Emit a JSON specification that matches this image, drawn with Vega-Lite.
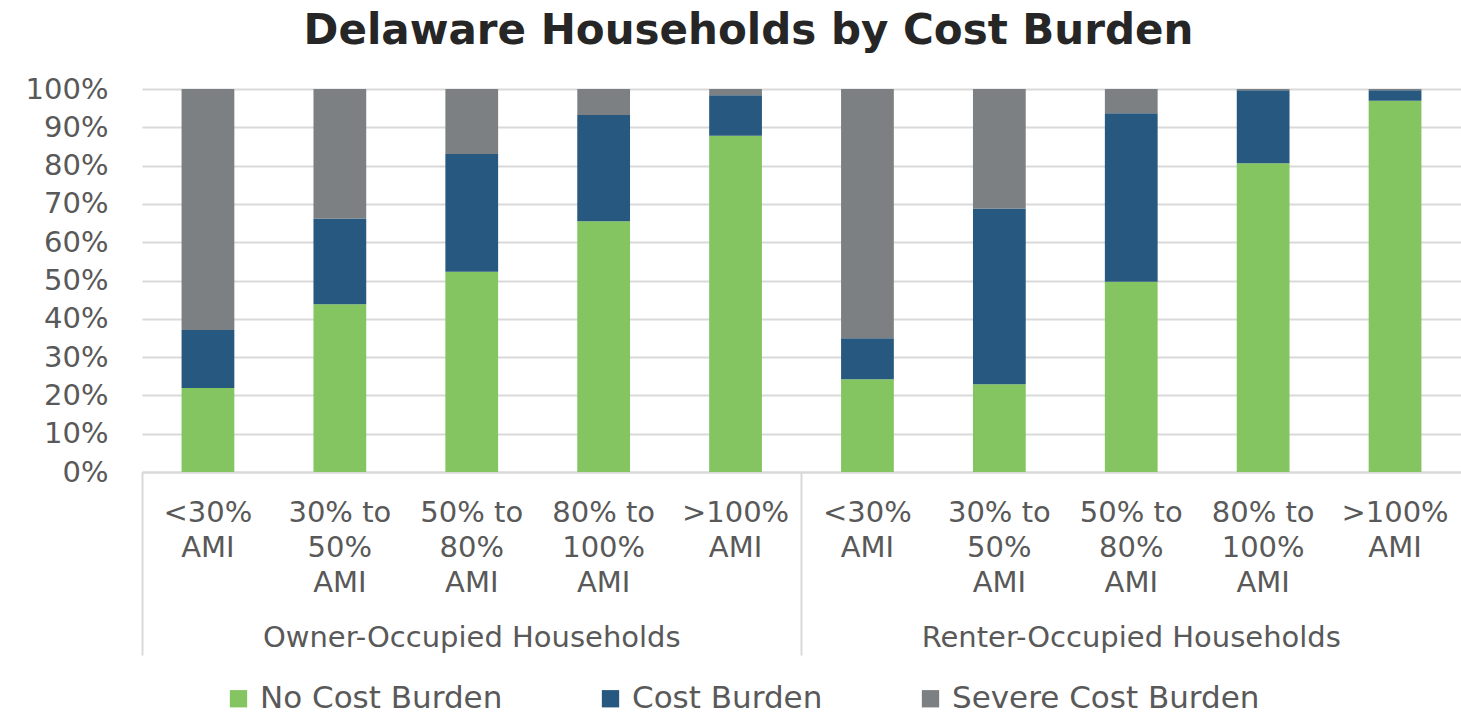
{
  "$schema": "https://vega.github.io/schema/vega-lite/v6.json",
  "autosize": {"type": "none"},
  "width": 1319,
  "height": 383,
  "padding": {"left": 142, "top": 89, "right": 0, "bottom": 244},
  "background": "white",
  "title": {
    "text": "Delaware Households by Cost Burden",
    "font": "DejaVu Sans",
    "fontSize": 42,
    "fontWeight": "bold",
    "color": "#262626",
    "anchor": "middle",
    "frame": "group",
    "dx": -53,
    "dy": 53,
    "baseline": "alphabetic",
    "offset": 42
  },
  "config": {
    "view": {"stroke": null},
    "axis": {"labelFont": "DejaVu Sans", "labelColor": "#595959"},
    "legend": {"labelFont": "DejaVu Sans", "labelColor": "#595959"}
  },
  "data": {
    "values": [
      {"cat": "O|<30%|AMI", "burden": "No Cost Burden", "ord": 1, "pct": 21.9},
      {"cat": "O|<30%|AMI", "burden": "Cost Burden", "ord": 2, "pct": 15.2},
      {"cat": "O|<30%|AMI", "burden": "Severe Cost Burden", "ord": 3, "pct": 62.9},
      {"cat": "O|30% to|50%|AMI", "burden": "No Cost Burden", "ord": 1, "pct": 43.8},
      {"cat": "O|30% to|50%|AMI", "burden": "Cost Burden", "ord": 2, "pct": 22.4},
      {"cat": "O|30% to|50%|AMI", "burden": "Severe Cost Burden", "ord": 3, "pct": 33.8},
      {"cat": "O|50% to|80%|AMI", "burden": "No Cost Burden", "ord": 1, "pct": 52.3},
      {"cat": "O|50% to|80%|AMI", "burden": "Cost Burden", "ord": 2, "pct": 30.7},
      {"cat": "O|50% to|80%|AMI", "burden": "Severe Cost Burden", "ord": 3, "pct": 17.0},
      {"cat": "O|80% to|100%|AMI", "burden": "No Cost Burden", "ord": 1, "pct": 65.5},
      {"cat": "O|80% to|100%|AMI", "burden": "Cost Burden", "ord": 2, "pct": 27.7},
      {"cat": "O|80% to|100%|AMI", "burden": "Severe Cost Burden", "ord": 3, "pct": 6.8},
      {"cat": "O|>100%|AMI", "burden": "No Cost Burden", "ord": 1, "pct": 87.8},
      {"cat": "O|>100%|AMI", "burden": "Cost Burden", "ord": 2, "pct": 10.6},
      {"cat": "O|>100%|AMI", "burden": "Severe Cost Burden", "ord": 3, "pct": 1.6},
      {"cat": "R|<30%|AMI", "burden": "No Cost Burden", "ord": 1, "pct": 24.2},
      {"cat": "R|<30%|AMI", "burden": "Cost Burden", "ord": 2, "pct": 10.7},
      {"cat": "R|<30%|AMI", "burden": "Severe Cost Burden", "ord": 3, "pct": 65.1},
      {"cat": "R|30% to|50%|AMI", "burden": "No Cost Burden", "ord": 1, "pct": 22.9},
      {"cat": "R|30% to|50%|AMI", "burden": "Cost Burden", "ord": 2, "pct": 45.9},
      {"cat": "R|30% to|50%|AMI", "burden": "Severe Cost Burden", "ord": 3, "pct": 31.2},
      {"cat": "R|50% to|80%|AMI", "burden": "No Cost Burden", "ord": 1, "pct": 49.7},
      {"cat": "R|50% to|80%|AMI", "burden": "Cost Burden", "ord": 2, "pct": 44.0},
      {"cat": "R|50% to|80%|AMI", "burden": "Severe Cost Burden", "ord": 3, "pct": 6.3},
      {"cat": "R|80% to|100%|AMI", "burden": "No Cost Burden", "ord": 1, "pct": 80.6},
      {"cat": "R|80% to|100%|AMI", "burden": "Cost Burden", "ord": 2, "pct": 19.1},
      {"cat": "R|80% to|100%|AMI", "burden": "Severe Cost Burden", "ord": 3, "pct": 0.3},
      {"cat": "R|>100%|AMI", "burden": "No Cost Burden", "ord": 1, "pct": 96.9},
      {"cat": "R|>100%|AMI", "burden": "Cost Burden", "ord": 2, "pct": 2.8},
      {"cat": "R|>100%|AMI", "burden": "Severe Cost Burden", "ord": 3, "pct": 0.3}
    ]
  },
  "layer": [
    {
      "mark": {"type": "bar", "width": {"band": 0.4}},
      "encoding": {
        "x": {
          "field": "cat",
          "type": "nominal",
          "sort": null,
          "scale": {"paddingInner": 0, "paddingOuter": 0},
          "axis": {
            "orient": "bottom",
            "title": null,
            "labelExpr": "slice(split(datum.label, '|'), 1)",
            "labelAngle": 0,
            "ticks": false,
            "domainColor": "#d9d9d9",
            "domainWidth": 2,
            "labelFontSize": 29,
            "labelLineHeight": 35,
            "labelPadding": 26,
            "labelLimit": 0,
            "labelOverlap": false,
            "labelBound": false
          }
        },
        "y": {
          "field": "pct",
          "type": "quantitative",
          "stack": "zero",
          "scale": {"domain": [0, 100]},
          "axis": {
            "title": null,
            "values": [0, 10, 20, 30, 40, 50, 60, 70, 80, 90, 100],
            "labelExpr": "datum.value + '%'",
            "domain": false,
            "ticks": false,
            "grid": true,
            "gridColor": "#d9d9d9",
            "gridWidth": 2,
            "labelFontSize": 29,
            "labelPadding": 34
          }
        },
        "color": {
          "field": "burden",
          "type": "nominal",
          "scale": {
            "domain": ["No Cost Burden", "Cost Burden", "Severe Cost Burden"],
            "range": ["#84c461", "#27587f", "#7d8082"]
          },
          "legend": {
            "title": null,
            "orient": "none",
            "legendX": 81,
            "legendY": 594,
            "direction": "horizontal",
            "symbolType": "square",
            "symbolSize": 300,
            "symbolStrokeWidth": 0,
            "symbolOpacity": 1,
            "labelFontSize": 31,
            "labelOffset": 6,
            "columnPadding": 92,
            "labelLimit": 0
          }
        },
        "order": {"field": "ord", "type": "quantitative"}
      }
    },
    {
      "mark": {"type": "bar", "opacity": 0},
      "encoding": {
        "x": {
          "field": "cat",
          "type": "nominal",
          "sort": null,
          "axis": {
            "orient": "bottom",
            "title": null,
            "values": ["O|<30%|AMI", "R|<30%|AMI"],
            "bandPosition": 0,
            "domain": false,
            "ticks": true,
            "tickSize": 183,
            "tickColor": "#d9d9d9",
            "tickWidth": 2,
            "labelOffset": 263.8,
            "labelPadding": -32,
            "labelAngle": 0,
            "labelFontSize": 29,
            "labelLimit": 0,
            "labelOverlap": false,
            "labelBound": false,
            "labelExpr": "substring(datum.label, 0, 1) == 'O' ? 'Owner-Occupied Households' : 'Renter-Occupied Households'"
          }
        }
      }
    }
  ],
  "resolve": {"axis": {"x": "independent"}}
}
